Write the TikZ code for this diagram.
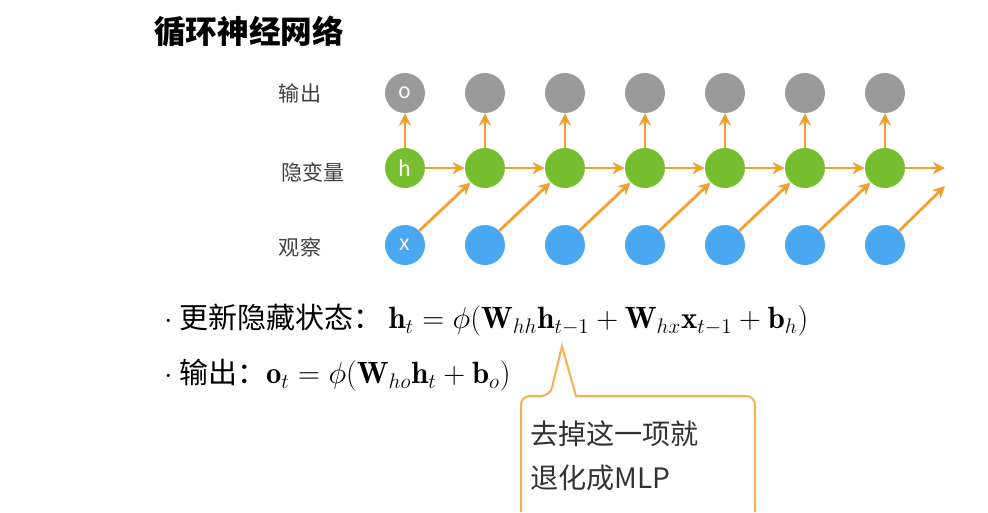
\documentclass[tikz,border=0pt]{standalone}
\usepackage{fontspec}
\usepackage{amsmath}
\newfontfamily\cjk{Noto Sans CJK SC}
\usetikzlibrary{arrows.meta,positioning}
\definecolor{outgray}{HTML}{9A9A9A}
\definecolor{hidgreen}{HTML}{77BF2F}
\definecolor{obsblue}{HTML}{4AA8F0}
\definecolor{arrorange}{HTML}{F0A030}
\begin{document}
\begin{tikzpicture}[
    x=0.02cm, y=-0.02cm,
    unit/.style={circle, minimum size=0.8cm, inner sep=0pt, text=white, font=\cjk\large},
    arrow/.style={-{Stealth[length=7pt,width=7pt]}, arrorange, line width=1.6pt},
    rowlabel/.style={font=\cjk\large, text=black!75}
]
    \useasboundingbox (0,0) rectangle (988,512);
    % Title
    \node[font=\cjk\bfseries\fontsize{18}{21}\selectfont, anchor=west] (title) at (148,32) {循环神经网络};
    % Row labels
    \node[rowlabel] (lo) at (300,93) {输出};
    \node[rowlabel] (lh) at (313,172) {隐变量};
    \node[rowlabel] (lx) at (300,247) {观察};
    % Units
    \foreach \i in {1,...,7} {
        \node[unit, fill=outgray] (o\i) at (325+80*\i,93) {};
        \node[unit, fill=hidgreen] (h\i) at (325+80*\i,168) {};
        \node[unit, fill=obsblue] (x\i) at (325+80*\i,245) {};
        \draw[arrow] (h\i) -- (o\i);
    }
    \node at (o1) {\cjk\large\color{white}o};
    \node at (h1) {\cjk\large\color{white}h};
    \node at (x1) {\cjk\large\color{white}x};
    % Recurrent and input connections
    \foreach \i [count=\j from 2] in {1,...,6} {
        \draw[arrow] (h\i) -- (h\j);
        \draw[arrow] (x\i.45) -- (h\j.-135);
    }
    \coordinate (hend) at (945,168);
    \coordinate (xend) at (945,186);
    \draw[arrow] (h7) -- (hend);
    \draw[arrow] (x7.45) -- (xend);
    % Equations
    \node[anchor=west, font=\cjk\fontsize{16.5}{19}\selectfont] (eq1) at (158,320)
        {\textbf{$\cdot$} 更新隐藏状态：\ \fontsize{17.5}{20}\selectfont$\mathbf{h}_t=\phi(\mathbf{W}_{hh}\mathbf{h}_{t-1}+\mathbf{W}_{hx}\mathbf{x}_{t-1}+\mathbf{b}_h)$};
    \node[anchor=west, font=\cjk\fontsize{16.5}{19}\selectfont] (eq2) at (158,375)
        {\textbf{$\cdot$} 输出：\fontsize{17.5}{20}\selectfont$\mathbf{o}_t=\phi(\mathbf{W}_{ho}\mathbf{h}_t+\mathbf{b}_o)$};
    % Callout
    \draw[arrorange!80, line width=1.2pt, rounded corners=5pt, fill=white]
        (521,512) -- (521,396) -- (550,396) [sharp corners] -- (562,346) -- (576,396)
        [rounded corners=5pt] -- (755,396) -- (755,512);
    \node[anchor=west, font=\cjk\fontsize{16}{19}\selectfont, text=black!80, align=left] (note) at (524,456)
        {去掉这一项就\\[6pt]退化成MLP};
\end{tikzpicture}
\end{document}
